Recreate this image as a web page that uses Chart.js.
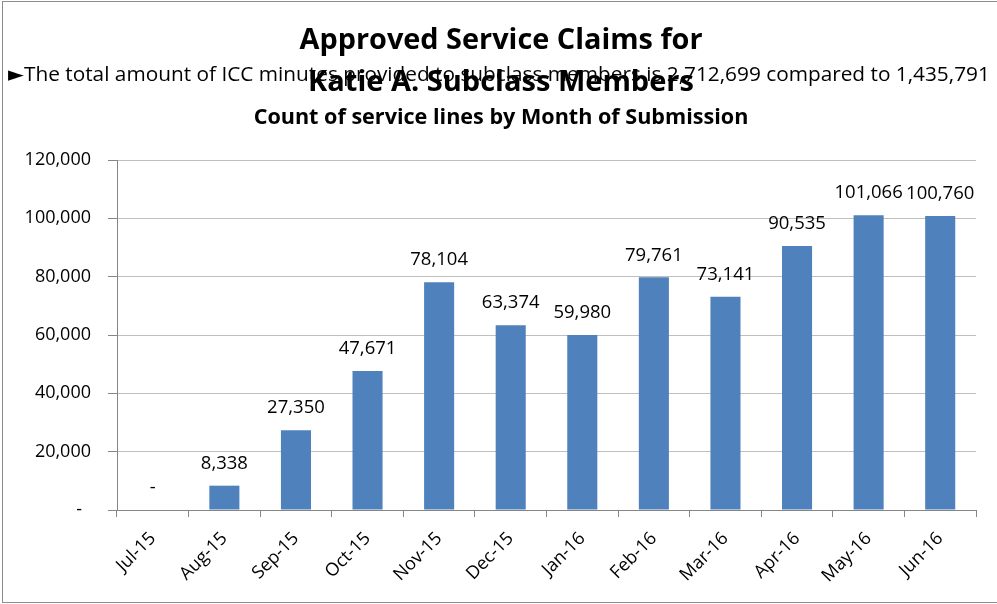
<!DOCTYPE html>
<html><head><meta charset="utf-8">
<script src="https://cdn.jsdelivr.net/npm/chart.js@4/dist/chart.umd.min.js"></script>
<style>html,body{margin:0;padding:0;background:#fff;overflow:hidden}#wrap{width:997px;height:604px;position:relative}</style>
</head><body><div id="wrap"><canvas id="c" width="997" height="604"></canvas></div>
<script>
const categories = ['Jul-15','Aug-15','Sep-15','Oct-15','Nov-15','Dec-15','Jan-16','Feb-16','Mar-16','Apr-16','May-16','Jun-16'];
const serviceLines = [0, 8338, 27350, 47671, 78104, 63374, 59980, 79761, 73141, 90535, 101066, 100760];
const yTickValues = [0, 20000, 40000, 60000, 80000, 100000, 120000];
const titleLines = ['Approved Service Claims for', 'Katie A. Subclass Members'];
const overlayText = '\u25BAThe total amount of ICC minutes provided to subclass members is 2,712,699 compared to 1,435,791';
const subtitleText = 'Count of service lines by Month of Submission';

const FAMILY = '"Open Sans", "Noto Sans", "DejaVu Sans", sans-serif';
const fmt = v => v === 0 ? '-' : v.toLocaleString('en-US');

function fitText(ctx, text, weight, targetW, cx, cy, align) {
  ctx.font = weight + ' 100px ' + FAMILY;
  const w = ctx.measureText(text).width;
  const size = 100 * targetW / w;
  ctx.font = weight + ' ' + size.toFixed(2) + 'px ' + FAMILY;
  ctx.textAlign = align || 'center';
  ctx.textBaseline = 'middle';
  ctx.fillStyle = '#000';
  ctx.fillText(text, cx, cy);
}

const deco = {
  id: 'deco',
  beforeDraw(chart) {
    const ctx = chart.ctx;
    ctx.save();
    ctx.fillStyle = '#fff';
    ctx.fillRect(0, 0, chart.width, chart.height);
    ctx.strokeStyle = '#8C8C8C';
    ctx.lineWidth = 1;
    ctx.strokeRect(2.5, 1.5, 1000, 601);
    ctx.restore();
  },
  afterDatasetsDraw(chart) {
    const ctx = chart.ctx;
    const meta = chart.getDatasetMeta(0);
    ctx.save();
    ctx.font = '18.5px ' + FAMILY;
    ctx.fillStyle = '#000';
    ctx.textAlign = 'center';
    ctx.textBaseline = 'middle';
    meta.data.forEach((bar, i) => {
      ctx.fillText(fmt(serviceLines[i]), bar.x, bar.y - 22);
    });
    ctx.restore();
  },
  afterDraw(chart) {
    const ctx = chart.ctx;
    ctx.save();
    fitText(ctx, titleLines[0], 'bold', 403, 501, 41);
    fitText(ctx, titleLines[1], 'bold', 386, 501, 83);
    fitText(ctx, overlayText, 'normal', 982, 8, 75, 'left');
    fitText(ctx, subtitleText, 'bold', 495, 501, 118);
    ctx.restore();
  }
};

new Chart(document.getElementById('c'), {
  type: 'bar',
  data: {
    labels: categories,
    datasets: [{
      data: serviceLines,
      backgroundColor: '#4F81BD',
      borderWidth: 0,
      barPercentage: 0.42,
      categoryPercentage: 1.0
    }]
  },
  options: {
    responsive: false,
    animation: false,
    devicePixelRatio: 1,
    layout: { padding: { top: 160, left: 0, right: 21, bottom: 0 } },
    plugins: { legend: { display: false }, tooltip: { enabled: false }, title: { display: false } },
    scales: {
      x: {
        offset: true,
        grid: { drawOnChartArea: false, offset: true, tickLength: 7, tickColor: '#868686' },
        border: { color: '#868686' },
        ticks: { maxRotation: 45, minRotation: 45, autoSkip: false, color: '#000', font: { family: FAMILY, size: 18 }, padding: 11 },
        afterFit(s) { s.height = 94; }
      },
      y: {
        min: 0, max: 120000,
        afterBuildTicks(s) { s.ticks = yTickValues.map(v => ({ value: v })); },
        grid: { color: '#BFBFBF', tickLength: 9, tickColor: '#868686' },
        border: { color: '#868686' },
        ticks: { color: '#000', font: { family: FAMILY, size: 18 }, padding: 17,
                 callback: v => v === 0 ? '-\u2002' : fmt(v) },
        afterFit(s) { s.width = 117; }
      }
    }
  },
  plugins: [deco]
});
</script></body></html>
